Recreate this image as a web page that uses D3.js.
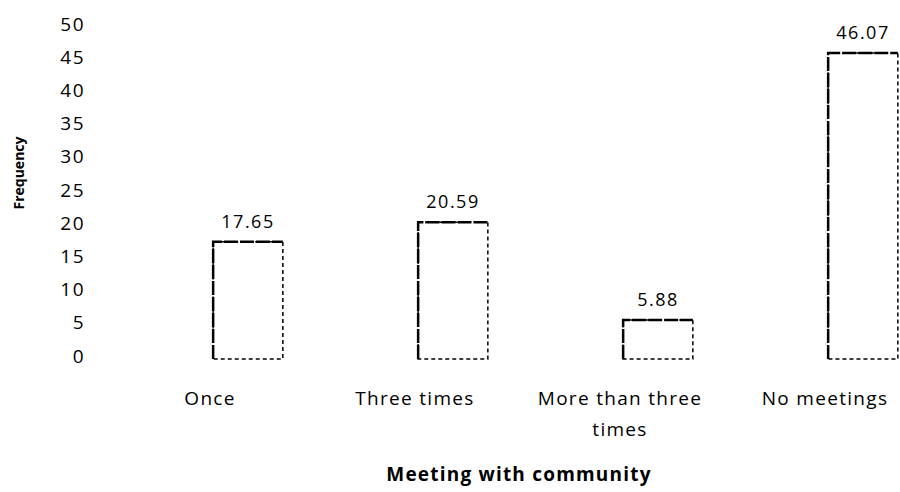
<!DOCTYPE html>
<html>
  <head>
    <title>Meeting with community</title>
    <meta charset="utf-8" />
    <style>
      body { margin: 0; background: #fff; }
      text { font-family: "Open Sans", "Liberation Sans", sans-serif; fill: #000; }
    </style>
  </head>
  <body>
    <div id="plot"></div>

    <script src="https://d3js.org/d3.v7.min.js"></script>
    <script>
      // data
      const categories = ["Once", "Three times", "More than three times", "No meetings"];
      const values = [17.65, 20.59, 5.88, 46.07];
      const yTicks = [0, 5, 10, 15, 20, 25, 30, 35, 40, 45, 50];

      const width = 900,
        height = 492;

      const svg = d3
        .select("#plot")
        .append("svg")
        .attr("width", width)
        .attr("height", height);

      // x scale runs past the right edge, as in the cropped original
      const x = d3
        .scaleBand()
        .domain(categories)
        .range([145.5, 965.5])
        .paddingInner(0.66)
        .paddingOuter(0.33);

      const y = d3.scaleLinear().domain([0, 50]).range([359, 27]);

      // y axis: labels only, no line or ticks
      const yAxis = svg
        .append("g")
        .attr("transform", "translate(85,-3)")
        .call(d3.axisLeft(y).tickValues(yTicks).tickSize(0).tickPadding(0));
      yAxis.select(".domain").remove();
      yAxis
        .selectAll("text")
        .style("font-size", "19px")
        .style("letter-spacing", "1.5px")
        .style("font-family", '"Open Sans", sans-serif')
        .attr("fill", "#000");

      // x axis: category labels, wrapped; they sit a little left of the bars
      const xAxis = svg
        .append("g")
        .attr("transform", "translate(-38,405)")
        .call(d3.axisBottom(x).tickSize(0).tickPadding(0).tickFormat(""));
      xAxis.select(".domain").remove();
      xAxis.selectAll(".tick").each(function (d) {
        const t = d3
          .select(this)
          .append("text")
          .attr("text-anchor", "middle")
          .style("font-size", "19px")
          .style("letter-spacing", "1.3px");
        const lines = d === "More than three times" ? ["More than three", "times"] : [d];
        lines.forEach((l, i) => {
          t.append("tspan").attr("x", 0).attr("y", i * 31).text(l);
        });
      });

      // bars with dashed outline
      const bars = svg.append("g");
      bars
        .selectAll("rect")
        .data(values)
        .join("rect")
        .attr("x", (d, i) => x(categories[i]))
        .attr("y", (d) => y(d))
        .attr("width", x.bandwidth())
        .attr("height", (d) => y(0) - y(d))
        .attr("fill", "#fff")
        .attr("stroke", "#000")
        .attr("stroke-width", 1.5)
        .attr("stroke-dasharray", "4,3");

      // heavier top and left edges
      bars
        .selectAll("path.edge")
        .data(values)
        .join("path")
        .attr("class", "edge")
        .attr("fill", "none")
        .attr("stroke", "#000")
        .attr("stroke-width", 2.5)
        .attr("d", (d, i) => {
          const x0 = x(categories[i]);
          return `M${x0},${y(0)}V${y(d)}H${x0 + x.bandwidth()}`;
        })
        .attr("stroke-dasharray", "14,2");

      // value labels
      svg
        .append("g")
        .selectAll("text")
        .data(values)
        .join("text")
        .attr("x", (d, i) => x(categories[i]) + x.bandwidth() / 2)
        .attr("y", (d) => y(d) - 14)
        .attr("text-anchor", "middle")
        .style("font-size", "18px")
        .style("letter-spacing", "1.5px")
        .text((d) => d.toFixed(2));

      // axis titles
      svg
        .append("text")
        .attr("transform", "translate(24,173) rotate(-90)")
        .attr("text-anchor", "middle")
        .style("font-size", "14px")
        .style("font-weight", "700")
        .text("Frequency");

      svg
        .append("text")
        .attr("x", 519)
        .attr("y", 481)
        .attr("text-anchor", "middle")
        .style("font-size", "19px")
        .style("font-weight", "700")
        .style("letter-spacing", "1.2px")
        .text("Meeting with community");
    </script>
  </body>
</html>
